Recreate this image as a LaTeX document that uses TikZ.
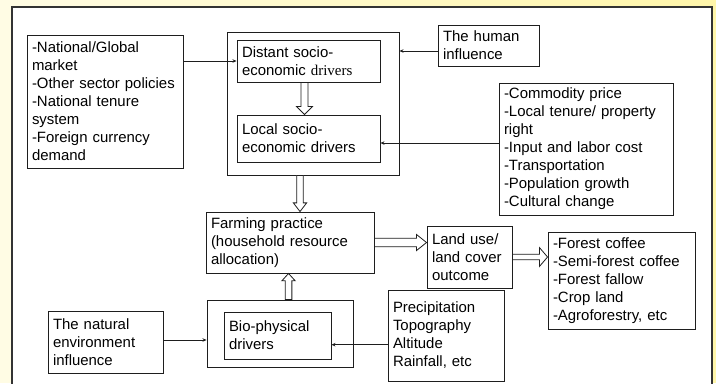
\documentclass[tikz,border=0pt]{standalone}
\usepackage{fontspec}
\setmainfont{Liberation Sans}
\newfontfamily\tmsfont{Liberation Serif}
\usetikzlibrary{arrows.meta,calc}
\definecolor{bgL}{RGB}{255,252,228}
\definecolor{bgR}{RGB}{255,246,170}
\definecolor{lineC}{RGB}{30,30,30}
% horizontal hollow arrow: start, end, shaft half, head half, head length
\newcommand{\hollowH}[5]{\draw[hol] let \p1=(#1), \p2=(#2) in
  (\x1,\y1+#3) -- (\x2-#5,\y1+#3) -- (\x2-#5,\y1+#4) -- (\x2,\y1) --
  (\x2-#5,\y1-#4) -- (\x2-#5,\y1-#3) -- (\x1,\y1-#3) -- cycle;}
\newcommand{\hollowDown}[5]{\draw[hol] let \p1=(#1), \p2=(#2) in
  (\x1-#3,\y1) -- (\x1-#3,\y2+#5) -- (\x1-#4,\y2+#5) -- (\x1,\y2) --
  (\x1+#4,\y2+#5) -- (\x1+#3,\y2+#5) -- (\x1+#3,\y1) -- cycle;}
\newcommand{\hollowUp}[5]{\draw[hol] let \p1=(#1), \p2=(#2) in
  (\x1-#3,\y1) -- (\x1-#3,\y2-#5) -- (\x1-#4,\y2-#5) -- (\x1,\y2) --
  (\x1+#4,\y2-#5) -- (\x1+#3,\y2-#5) -- (\x1+#3,\y1) -- cycle;}
\tikzset{
  box/.style={draw=lineC, line width=0.7pt, fill=white, inner xsep=3.75pt, inner ysep=0pt,
    align=left, font=\fontsize{11.2}{13.5}\selectfont},
  ebox/.style={draw=lineC, line width=0.7pt, fill=white, inner sep=0pt},
  arr/.style={draw=lineC, line width=0.6pt, -{Stealth[length=3pt,width=2.6pt]}},
  hol/.style={draw=lineC, line width=0.6pt, fill=white, line join=miter},
  frame/.style={draw=black!80, line width=0.8pt, fill=white}
}
\begin{document}
\begin{tikzpicture}[x=0.75pt,y=-0.75pt]
\useasboundingbox (0,0) rectangle (716,383);
\clip (0,0) rectangle (716,383);
\foreach \i in {0,...,71}{
  \pgfmathsetmacro{\pc}{100*\i/71}
  \fill[bgR!\pc!bgL] (\i*10,0) rectangle (\i*10+10.5,383);
}
\draw[frame] (12,7) rectangle (712,400);

% socio-economic group
\node[ebox, minimum width=129pt, minimum height=107.25pt] (S) at (313,103.5) {};
\node[box, minimum width=107.25pt, minimum height=31.5pt, text width=99.75pt] (D) at (308.5,61)
  {Distant socio-\\economic {\tmsfont drivers}};
\node[box, minimum width=107.25pt, minimum height=35.25pt, text width=99.75pt] (L) at (308.5,138.5)
  {Local socio-\\economic drivers};

\node[box, minimum width=117pt, minimum height=99.75pt, text width=109.5pt] (A) at (105,101.5)
  {-National/Global\\market\\-Other sector policies\\-National tenure\\system\\-Foreign currency\\demand};
\node[box, minimum width=75.75pt, minimum height=30.75pt, text width=68.25pt] (H) at (488.5,45.5)
  {The human\\influence};
\node[box, minimum width=130.5pt, minimum height=99pt, text width=123pt] (C) at (586,149)
  {-Commodity price\\-Local tenure/ property\\right\\-Input and labor cost\\-Transportation\\-Population growth\\-Cultural change};

\node[box, minimum width=126pt, minimum height=45.75pt, text width=118.5pt] (F) at (290,242.5)
  {Farming practice\\(household resource\\allocation)};
\node[box, minimum width=63.75pt, minimum height=46.5pt, text width=56.25pt] (U) at (469.5,257)
  {Land use/\\land cover\\outcome};
\node[box, minimum width=110.25pt, minimum height=72.75pt, text width=102.75pt] (O) at (621.5,280.5)
  {-Forest coffee\\-Semi-forest coffee\\-Forest fallow\\-Crop land\\-Agroforestry, etc};

% bio-physical group
\node[ebox, minimum width=109.5pt, minimum height=50.25pt] (B) at (280,333.5) {};
\node[box, minimum width=80.25pt, minimum height=35.25pt, text width=72.75pt] (Bi) at (277.5,335.5)
  {Bio-physical\\drivers};
\node[box, minimum width=86.25pt, minimum height=46.5pt, text width=78.75pt] (N) at (105.5,342)
  {The natural\\environment\\influence};
\node[box, minimum width=87pt, minimum height=68.25pt, text width=79.5pt] (P) at (446,335.5)
  {Precipitation\\Topography\\Altitude\\Rainfall, etc};

% thin connectors
\draw[arr] (A.east |- D.west) -- (D.west);
\draw[arr] ([yshift=-4.1pt]H.west) -- ([yshift=-4.1pt]H.west -| S.east);
\draw[arr] ([yshift=-3.4pt]L.east -| C.west) -- ([yshift=-3.4pt]L.east);
\draw[arr] ([yshift=1.5pt]N.east) -- ([yshift=1.5pt]N.east -| B.west);
\draw[arr] ([yshift=-6.9pt]P.west) -- ([yshift=-6.9pt]P.west -| Bi.east);

% hollow arrows
\hollowDown{[xshift=-3pt]D.south}{[xshift=-3pt]D.south |- L.north}{2.6pt}{6pt}{6pt}
\hollowDown{[xshift=-9.75pt]S.south}{[xshift=-9.75pt]S.south |- F.north}{2.5pt}{5pt}{6.5pt}
\hollowUp{[xshift=6.4pt]B.north}{[xshift=6.4pt]B.north |- F.south}{2.5pt}{5pt}{5.5pt}
\hollowH{F.east}{F.east -| U.west}{3.2pt}{6pt}{7.5pt}
\hollowH{U.east}{U.east -| O.west}{2pt}{7pt}{6pt}
\end{tikzpicture}
\end{document}
